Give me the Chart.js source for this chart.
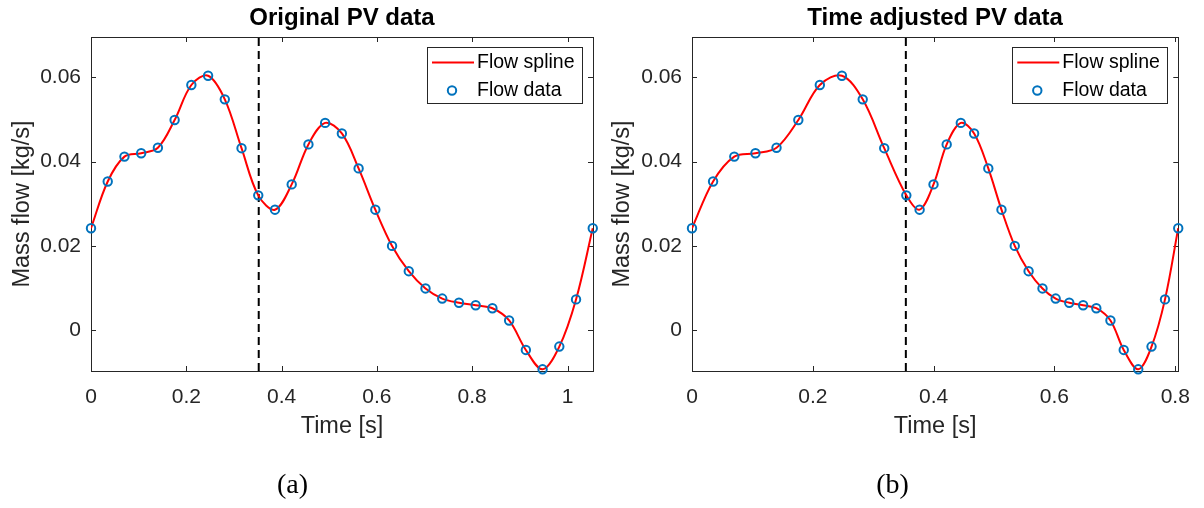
<!DOCTYPE html>
<html>
<head>
<meta charset="utf-8">
<script src="https://cdn.jsdelivr.net/npm/chart.js@4.4.0/dist/chart.umd.min.js"></script>
<style>
  body { margin: 0; background: #fff; width: 1204px; height: 508px; overflow: hidden; position: relative; }
  .panel { position: absolute; top: 0; height: 508px; }
</style>
</head>
<body>
<div class="panel" style="left:0;width:600px"><canvas id="chartA"></canvas></div>
<div class="panel" style="left:600px;width:604px"><canvas id="chartB"></canvas></div>
<script>
// flow samples (same values in both panels, only the time axis changes)
const flowData = [0.0242, 0.0353, 0.0412, 0.0420, 0.0433, 0.0499, 0.0582, 0.0604, 0.0548, 0.0432,
  0.0320, 0.0286, 0.0346, 0.0441, 0.0492, 0.0467, 0.0384, 0.0286, 0.0200, 0.0140,
  0.0099, 0.0075, 0.0065, 0.0059, 0.0052, 0.0023, -0.0047, -0.0093, -0.0039, 0.0073, 0.0242];

const timeOriginal = [0, 0.0351, 0.0702, 0.1053, 0.1404, 0.1755, 0.2106, 0.2457, 0.2808, 0.3159,
  0.3510, 0.3861, 0.4212, 0.4563, 0.4914, 0.5265, 0.5616, 0.5967, 0.6318, 0.6669,
  0.7020, 0.7371, 0.7722, 0.8073, 0.8424, 0.8775, 0.9126, 0.9477, 0.9828, 1.0179, 1.0530];

const timeAdjusted = [0, 0.0349, 0.0700, 0.1050, 0.1399, 0.1760, 0.2116, 0.2482, 0.2826, 0.3182,
  0.3548, 0.3768, 0.3998, 0.4216, 0.4450, 0.4670, 0.4905, 0.5123, 0.5343, 0.5572,
  0.5802, 0.6020, 0.6245, 0.6475, 0.6693, 0.6927, 0.7147, 0.7387, 0.7607, 0.7830, 0.8049];

// dashed marker time in each panel
const markerOriginal = [0.352];
const markerAdjusted = [0.354];

const yLimits = [-0.0097, 0.0696];
const xLimitsOriginal = [0, 1.0535];
const xLimitsAdjusted = [0, 0.805];

const seriesLabels = ['Flow spline', 'Flow data'];

const axisColor = '#262626';
const sans = '"Liberation Sans", Arial, Helvetica, sans-serif';

function fmt(v) {
  return String(Math.round(v * 100) / 100);
}

// box, inward ticks, legend and text, matlab style
const matlabFrame = {
  id: 'matlabFrame',
  beforeDatasetsDraw(chart) {
    const { ctx, chartArea: a, scales: { x, y } } = chart;
    ctx.save();
    ctx.strokeStyle = axisColor;
    ctx.lineWidth = 1;
    ctx.strokeRect(Math.round(a.left) + 0.5, Math.round(a.top) + 0.5,
      Math.round(a.right - a.left), Math.round(a.bottom - a.top));
    ctx.beginPath();
    x.ticks.forEach(t => {
      const px = Math.round(x.getPixelForValue(t.value)) + 0.5;
      ctx.moveTo(px, a.bottom); ctx.lineTo(px, a.bottom - 5);
      ctx.moveTo(px, a.top); ctx.lineTo(px, a.top + 5);
    });
    y.ticks.forEach(t => {
      const py = Math.round(y.getPixelForValue(t.value)) + 0.5;
      ctx.moveTo(a.left, py); ctx.lineTo(a.left + 5, py);
      ctx.moveTo(a.right, py); ctx.lineTo(a.right - 5, py);
    });
    ctx.stroke();
    ctx.restore();
  },
  afterDatasetsDraw(chart, args, opts) {
    const { ctx, chartArea: a } = chart;
    const cx = (a.left + a.right) / 2;
    ctx.save();

    // legend
    const bw = 155, bh = 56;
    const bx = a.right - 11 - bw, by = a.top + 10;
    ctx.fillStyle = '#fff';
    ctx.fillRect(bx, by, bw, bh);
    ctx.strokeStyle = axisColor;
    ctx.lineWidth = 1;
    ctx.strokeRect(Math.round(bx) + 0.5, Math.round(by) + 0.5, bw, bh);
    ctx.strokeStyle = '#ff0000';
    ctx.lineWidth = 2;
    ctx.beginPath();
    ctx.moveTo(bx + 5, by + 15.5); ctx.lineTo(bx + 47, by + 15.5);
    ctx.stroke();
    ctx.strokeStyle = '#0072BD';
    ctx.beginPath();
    ctx.arc(bx + 25, by + 43.5, 4.2, 0, Math.PI * 2);
    ctx.stroke();
    ctx.fillStyle = '#000';
    ctx.font = '19.5px ' + sans;
    ctx.textAlign = 'left';
    ctx.textBaseline = 'middle';
    ctx.fillText(seriesLabels[0], bx + 50, by + 15.5);
    ctx.fillText(seriesLabels[1], bx + 50, by + 43.5);

    // title
    ctx.fillStyle = '#000';
    ctx.font = 'bold 24px ' + sans;
    ctx.textAlign = 'center';
    ctx.fillText(opts.title, cx, 18);

    // axis labels
    ctx.fillStyle = axisColor;
    ctx.font = '23.5px ' + sans;
    ctx.fillText('Time [s]', cx, 427);
    ctx.save();
    ctx.translate(23, (a.top + a.bottom) / 2);
    ctx.rotate(-Math.PI / 2);
    ctx.fillText('Mass flow [kg/s]', 0, 0);
    ctx.restore();

    // caption
    ctx.fillStyle = '#000';
    ctx.font = '28px "Liberation Serif", "Times New Roman", serif';
    ctx.fillText(opts.caption, 292.5, 486);
    ctx.restore();
  }
};

function makeChart(id, times, xLimits, marker, title, caption, leftWidth, padRight) {
  const points = times.map((t, i) => ({ x: t, y: flowData[i] }));
  const markerLine = [{ x: marker[0], y: yLimits[0] }, { x: marker[0], y: yLimits[1] }];

  return new Chart(document.getElementById(id), {
    type: 'line',
    data: {
      datasets: [
        {
          label: seriesLabels[1],
          data: points,
          showLine: false,
          pointStyle: 'circle',
          pointRadius: 4.2,
          pointBorderWidth: 2,
          pointBorderColor: '#0072BD',
          pointBackgroundColor: 'rgba(0,0,0,0)',
          clip: false,
          order: 1
        },
        {
          label: seriesLabels[0],
          data: points,
          borderColor: '#ff0000',
          borderWidth: 2,
          tension: 0.35,
          pointRadius: 0,
          fill: false,
          order: 2
        },
        {
          label: 'marker',
          data: markerLine,
          borderColor: '#000',
          borderWidth: 2,
          borderDash: [8, 5],
          pointRadius: 0,
          fill: false,
          order: 3
        }
      ]
    },
    options: {
      responsive: true,
      maintainAspectRatio: false,
      animation: false,
      layout: { autoPadding: false, padding: { left: 0, right: padRight, top: 37, bottom: 0 } },
      plugins: {
        legend: { display: false },
        tooltip: { enabled: false },
        matlabFrame: { title: title, caption: caption }
      },
      scales: {
        x: {
          type: 'linear',
          min: xLimits[0],
          max: xLimits[1],
          grid: { display: false, drawTicks: false, tickLength: 0 },
          border: { display: false },
          ticks: {
            stepSize: 0.2,
            includeBounds: false,
            maxRotation: 0,
            autoSkip: false,
            padding: 14,
            color: axisColor,
            font: { family: sans, size: 21 },
            callback: v => fmt(v)
          },
          afterFit: s => { s.height = 508 - 371; }
        },
        y: {
          type: 'linear',
          min: yLimits[0],
          max: yLimits[1],
          grid: { display: false, drawTicks: false, tickLength: 0 },
          border: { display: false },
          ticks: {
            stepSize: 0.02,
            includeBounds: false,
            padding: 10,
            color: axisColor,
            font: { family: sans, size: 21 },
            callback: v => fmt(v)
          },
          afterFit: s => { s.width = leftWidth; }
        }
      }
    },
    plugins: [matlabFrame]
  });
}

makeChart('chartA', timeOriginal, xLimitsOriginal, markerOriginal, 'Original PV data', '(a)', 91, 7);
makeChart('chartB', timeAdjusted, xLimitsAdjusted, markerAdjusted, 'Time adjusted PV data', '(b)', 92, 21.3);
</script>
</body>
</html>
